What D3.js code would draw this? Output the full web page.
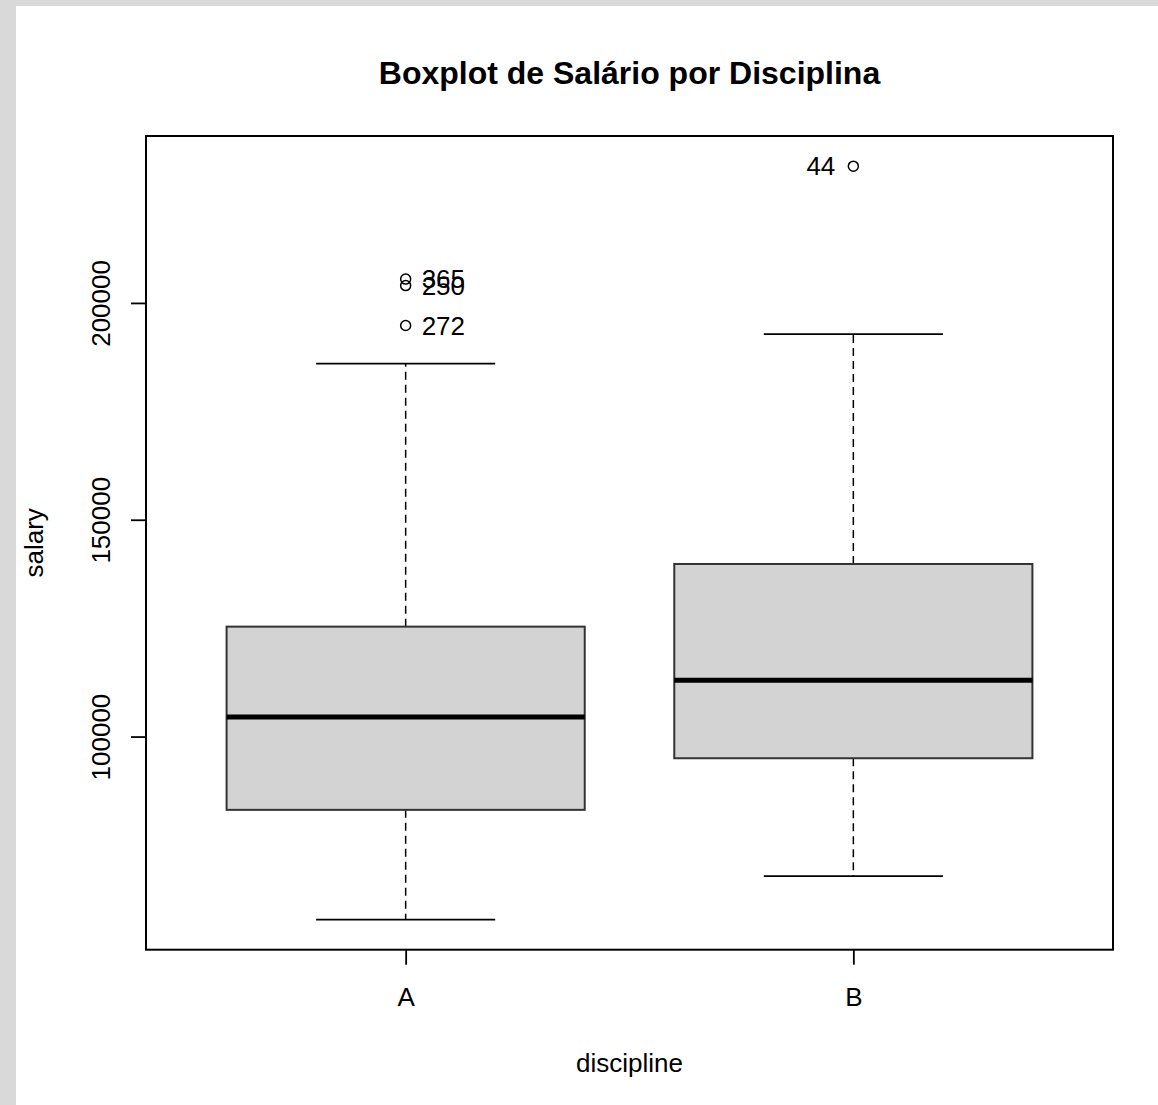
<!DOCTYPE html>
<html>
<head>
<meta charset="utf-8">
<script src="https://cdn.jsdelivr.net/npm/d3@7"></script>
<style>
  html, body { margin: 0; padding: 0; background: #d9d9d9; }
  svg { display: block; }
  text { font-family: "Liberation Sans", Arial, sans-serif; fill: #000; }
</style>
</head>
<body>
<svg id="chart" width="1158" height="1105"></svg>
<script>
// Salary summary by discipline (five-number summary per group)
const categories   = ["A", "B"];
const whiskerLow   = [57800, 67800];
const q1           = [83100, 95000];
const median       = [104500, 113000];
const q3           = [125350, 139800];
const whiskerHigh  = [186000, 192800];

// Points beyond the whiskers, with their row labels
const outlierGroup = ["A", "A", "A", "B"];
const outlierValue = [205500, 204000, 194800, 231545];
const outlierLabel = ["365", "250", "272", "44"];

const yTickValues  = [100000, 150000, 200000];

const svg = d3.select("#chart");

// white drawing page
svg.append("rect")
  .attr("x", 16).attr("y", 6)
  .attr("width", 1158 - 16).attr("height", 1105 - 6)
  .attr("fill", "#fff");

const plot = { left: 146, right: 1113, top: 136, bottom: 949.7 };

// y range padded by 4% on each side of the data extent
const allVals = [...whiskerLow, ...whiskerHigh, ...outlierValue];
const lo = d3.min(allVals), hi = d3.max(allVals);
const pad = (hi - lo) * 0.04;
const y = d3.scaleLinear().domain([lo - pad, hi + pad]).range([plot.bottom, plot.top]);

const x = d3.scalePoint().domain(categories).range([plot.left, plot.right]).padding(0.58);
const step = x.step();
const boxW = step * 0.8;
const capW = step * 0.4;

// title
svg.append("text")
  .attr("x", (plot.left + plot.right) / 2).attr("y", 84)
  .attr("text-anchor", "middle")
  .style("font-size", "32px").style("font-weight", "bold")
  .text("Boxplot de Salário por Disciplina");

const g = svg.append("g");

categories.forEach((c, i) => {
  const cx = x(c);
  // dashed whiskers
  g.append("line")
    .attr("x1", cx).attr("x2", cx)
    .attr("y1", y(q3[i])).attr("y2", y(whiskerHigh[i]))
    .attr("stroke", "#000").attr("stroke-width", 1.5).attr("stroke-dasharray", "8,5");
  g.append("line")
    .attr("x1", cx).attr("x2", cx)
    .attr("y1", y(q1[i])).attr("y2", y(whiskerLow[i]))
    .attr("stroke", "#000").attr("stroke-width", 1.5).attr("stroke-dasharray", "8,5");
  // whisker caps
  [whiskerHigh[i], whiskerLow[i]].forEach(v => {
    g.append("line")
      .attr("x1", cx - capW / 2).attr("x2", cx + capW / 2)
      .attr("y1", y(v)).attr("y2", y(v))
      .attr("stroke", "#000").attr("stroke-width", 1.8);
  });
  // box
  g.append("rect")
    .attr("x", cx - boxW / 2).attr("width", boxW)
    .attr("y", y(q3[i])).attr("height", y(q1[i]) - y(q3[i]))
    .attr("fill", "#d3d3d3").attr("stroke", "#333").attr("stroke-width", 2);
  // median
  g.append("line")
    .attr("x1", cx - boxW / 2).attr("x2", cx + boxW / 2)
    .attr("y1", y(median[i])).attr("y2", y(median[i]))
    .attr("stroke", "#000").attr("stroke-width", 5);
});

// outliers and their labels
outlierValue.forEach((v, i) => {
  const cx = x(outlierGroup[i]);
  g.append("circle")
    .attr("cx", cx).attr("cy", y(v)).attr("r", 5)
    .attr("fill", "none").attr("stroke", "#000").attr("stroke-width", 1.5);
  const right = outlierGroup[i] === "A";
  g.append("text")
    .attr("x", right ? cx + 16 : cx - 18).attr("y", y(v))
    .attr("dy", "0.36em")
    .attr("text-anchor", right ? "start" : "end")
    .style("font-size", "26px")
    .text(outlierLabel[i]);
});

// frame
svg.append("rect")
  .attr("x", plot.left).attr("y", plot.top)
  .attr("width", plot.right - plot.left).attr("height", plot.bottom - plot.top)
  .attr("fill", "none").attr("stroke", "#000").attr("stroke-width", 2);

// y axis
const yAxis = svg.append("g")
  .attr("transform", `translate(${plot.left},0)`)
  .call(d3.axisLeft(y).tickValues(yTickValues).tickSize(15).tickFormat(d3.format("d")));
yAxis.select(".domain").remove();
yAxis.selectAll(".tick line").attr("stroke", "#000").attr("stroke-width", 1.8);
yAxis.selectAll(".tick text")
  .attr("transform", "rotate(-90)")
  .attr("x", 0).attr("y", -36).attr("dy", null)
  .attr("text-anchor", "middle")
  .style("font-size", "26px").attr("font-family", null).attr("font-size", null);

// x axis
const xAxis = svg.append("g")
  .attr("transform", `translate(0,${plot.bottom})`)
  .call(d3.axisBottom(x).tickSize(15));
xAxis.select(".domain").remove();
xAxis.selectAll(".tick line").attr("stroke", "#000").attr("stroke-width", 1.8);
xAxis.selectAll(".tick text")
  .attr("y", 56).attr("dy", null)
  .style("font-size", "26px").attr("font-family", null).attr("font-size", null);

// axis titles
svg.append("text")
  .attr("x", (plot.left + plot.right) / 2).attr("y", 1072)
  .attr("text-anchor", "middle").style("font-size", "26px")
  .text("discipline");
svg.append("text")
  .attr("transform", `translate(43,${(plot.top + plot.bottom) / 2}) rotate(-90)`)
  .attr("text-anchor", "middle").style("font-size", "26px")
  .text("salary");
</script>
</body>
</html>
